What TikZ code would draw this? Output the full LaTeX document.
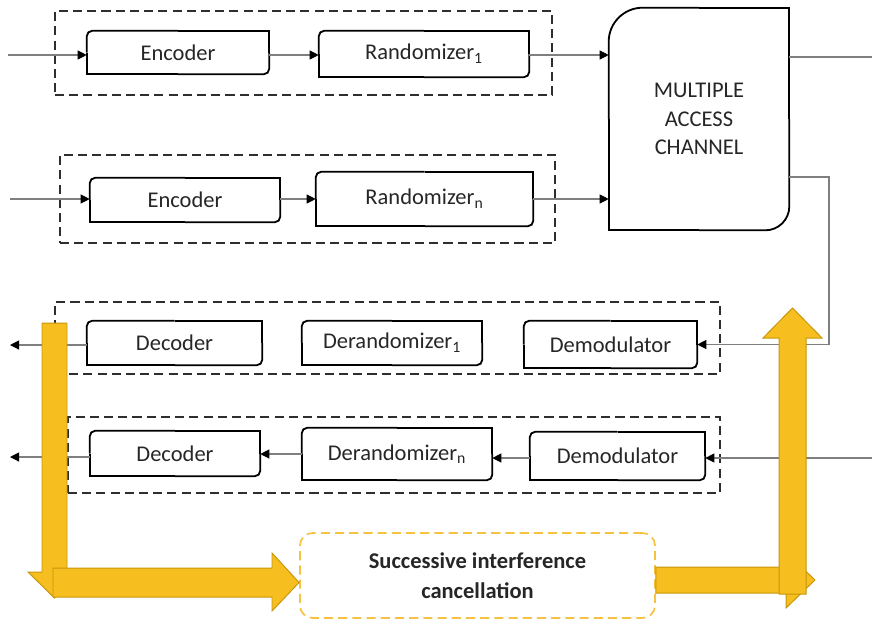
\documentclass[tikz,border=0pt]{standalone}
\usepackage{fontspec}
\setmainfont{Carlito}
\usetikzlibrary{arrows.meta, calc}
\definecolor{cink}{HTML}{262626}
\definecolor{cline}{HTML}{7F7F7F}
\definecolor{cdash}{HTML}{2E2E2E}
\definecolor{cgold}{HTML}{F6BE1F}
\definecolor{cgoldedge}{HTML}{C8960C}
\definecolor{csic}{HTML}{F5C242}
\tikzset{
  every picture/.style={font=\fontsize{16}{20.5}\selectfont, text=cink},
  blk/.style 2 args={minimum width=#1, minimum height=#2, inner sep=0pt, align=center},
  frame/.style={draw=black, line width=1.3pt},
  grp/.style 2 args={draw=cdash, line width=1.2pt, dash pattern=on 6.5pt off 3.6pt, minimum width=#1, minimum height=#2, inner sep=0pt},
  flow/.style={draw=cline, line width=0.8pt, -{Triangle[length=6.5pt, width=6.5pt, color=black]}},
  wire/.style={draw=cline, line width=0.8pt},
  fat/.style={fill=cgold, draw=cgoldedge, line width=0.7pt, line join=miter},
  sicbox/.style={draw=csic, line width=1.2pt, dash pattern=on 6.5pt off 3.6pt, rounded corners=9pt, minimum width=8.875cm, minimum height=2.125cm, align=center, font=\fontsize{16}{21}\selectfont\bfseries},
}

\begin{document}
\begin{tikzpicture}[x=0.025cm, y=-0.025cm]
  \useasboundingbox (0,0) rectangle (872,620);

  % dashed groups
  \node[grp={12.425cm}{2.1cm}] (g1) at (303.5,53) {};
  \node[grp={12.375cm}{2.2cm}] (g2) at (307.5,199) {};
  \node[grp={16.625cm}{1.8cm}] (g3) at (387.5,338) {};
  \node[grp={16.3cm}{1.9cm}] (g4) at (394,455) {};

  % transmitters
  \node[blk={4.55cm}{1.075cm}] (enc1) at (178,52.5) {Encoder};
  \node[blk={5.25cm}{1.15cm}] (rnd1) at (424,54) {Randomizer\textsubscript{1}};
  \node[blk={4.75cm}{1.1cm}] (enc2) at (185,200) {Encoder};
  \node[blk={5.425cm}{1.35cm}] (rnd2) at (424.5,199) {Randomizer\textsubscript{n}};

  % receivers
  \node[blk={4.375cm}{1.1cm}] (dec1) at (174.5,343) {Decoder};
  \node[blk={4.5cm}{1.1cm}] (der1) at (392,343) {Derandomizer\textsubscript{1}};
  \node[blk={4.325cm}{1.175cm}] (dem1) at (610.5,344.5) {Demodulator};
  \node[blk={4.25cm}{1.125cm}] (dec2) at (175,453.5) {Decoder};
  \node[blk={4.75cm}{1.3cm}] (der2) at (397,454) {Derandomizer\textsubscript{n}};
  \node[blk={4.375cm}{1.2cm}] (dem2) at (617.5,456) {Demodulator};

  \foreach \n in {enc1,rnd1,enc2,rnd2,dec1,der1,dem1,dec2,der2,dem2} {
    \draw[frame, rounded corners=4pt] (\n.west) |- (\n.north);
    \draw[frame] (\n.north) -| (\n.east);
    \draw[frame, rounded corners=4pt] (\n.east) |- (\n.south);
    \draw[frame] (\n.south) -| (\n.west);
  }

  % channel
  \node[blk={4.5cm}{5.55cm}] (mac) at (699,119) {MULTIPLE\\ACCESS\\CHANNEL};
  \draw[frame, rounded corners=0.85cm] (mac.west) |- (mac.north);
  \draw[frame] (mac.north) -| (mac.east);
  \draw[frame, rounded corners=0.6cm] (mac.east) |- (mac.south);
  \draw[frame] (mac.south) -| (mac.west);

  \node[sicbox] (sic) at (477.5,575.5) {Successive interference\\cancellation};

  % connectors
  \coordinate (in1) at (8,55);
  \coordinate (in2) at (10,199);
  \coordinate (out1) at (872,57);
  \coordinate (bend) at (829,177);
  \coordinate (in4) at (872,458);
  \coordinate (out3) at (10,345);
  \coordinate (out4) at (10,457);

  \draw[flow] (in1) -- (in1 -| enc1.west);
  \draw[flow] (enc1.east |- in1) -- (rnd1.west |- in1);
  \draw[flow] (rnd1.east |- in1) -- (mac.west |- in1);
  \draw[wire] (mac.east |- out1) -- (out1);
  \draw[flow] (in2) -- (in2 -| enc2.west);
  \draw[flow] (enc2.east |- in2) -- (rnd2.west |- in2);
  \draw[flow] (rnd2.east |- in2) -- (mac.west |- in2);
  \draw[flow] (mac.east |- bend) -- (bend) |- (dem1.east);
  \draw[flow] (in4) -- (in4 -| dem2.east);
  \draw[flow] (dem2.west |- in4) -- (der2.east |- in4);
  \draw[flow] (der2.west) -- (dec2.east |- der2.west);
  \draw[flow] (dec1.west |- out3) -- (out3);
  \draw[flow] (dec2.west |- out4) -- (out4);

  % SIC feedback arrows
  \draw[fat] (42,323) -- (67,323) -- (67,572) -- (81,572) -- (54.5,598) -- (28,572) -- (42,572) -- cycle;
  \draw[fat] (53,568) -- (272,568) -- (272,553) -- (sic.west |- 0,582.5) -- (272,611) -- (272,597) -- (53,597) -- cycle;
  \draw[fat] (sic.east |- 0,567) -- (786,567) -- (786,552) -- (815,580) -- (786,608) -- (786,593) -- (sic.east |- 0,593) -- cycle;
  \draw[fat] (779,594) -- (779,338) -- (763,338) -- (792.5,308) -- (822,338) -- (806,338) -- (806,594) -- cycle;
\end{tikzpicture}
\end{document}
